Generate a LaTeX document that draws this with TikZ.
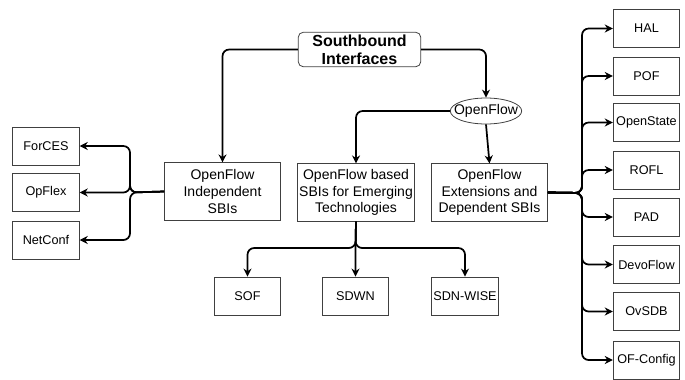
\documentclass[tikz,border=0pt]{standalone}
\usepackage{fontspec}
\setmainfont{Liberation Sans}
\usetikzlibrary{arrows.meta,shapes.geometric}
\begin{document}
\begin{tikzpicture}[x=0.75pt,y=-0.75pt,
        box/.style={draw=black!75,line width=0.6pt,minimum width=87pt,minimum height=43pt,
            align=center,inner sep=1pt,font=\fontsize{10.5}{12.5}\selectfont},
        leaf/.style={draw=black!75,line width=0.6pt,minimum width=50pt,minimum height=28.5pt,
            inner sep=0pt,font=\fontsize{9.5}{11}\selectfont},
        link/.style={line width=1.3pt,rounded corners=5pt,-{Stealth[length=6pt,width=6pt]}}]
    \useasboundingbox (0,0) rectangle (685,379);
    \node[draw=black!75,line width=0.6pt,rounded corners=4pt,minimum width=92pt,minimum height=26pt,
        align=center,inner sep=1pt,font=\fontsize{12}{13.5}\selectfont\bfseries] (sbi) at (359.5,49.5)
        {Southbound\\Interfaces};
    \node[ellipse,draw=black!75,line width=0.6pt,minimum height=19.5pt,inner xsep=-5pt,inner ysep=0pt,
        font=\fontsize{10.5}{12.5}\selectfont] (of) at (486,111) {OpenFlow};
    \node[box] (indep) at (222.5,191.5) {OpenFlow\\Independent\\SBIs};
    \node[box] (based) at (356,192.5) {OpenFlow based\\SBIs for Emerging\\Technologies};
    \node[box] (ext) at (489.5,192.5) {OpenFlow\\Extensions and\\Dependent SBIs};
    % left leaves
    \foreach \name/\y in {ForCES/146, OpFlex/192.5, NetConf/240}
        \node[leaf] (L-\name) at (46,\y) {\name};
    % bottom leaves
    \foreach \name/\x in {SOF/247.5, SDWN/355.5, SDN-WISE/465}
        \node[leaf] (B-\name) at (\x,296) {\name};
    % right leaves
    \foreach \name/\y in {HAL/28.5, POF/76, OpenState/122.5, ROFL/170, PAD/217, DevoFlow/264.5, OvSDB/311.5, OF-Config/360}
        \node[leaf] (R-\name) at (646.5,\y) {\name};
    \coordinate (lbus) at (130,192.5);
    \coordinate (bbus) at (355.5,248);
    \coordinate (rbus) at (582,193);
    \draw[link] (sbi.west) -| (indep.north);
    \draw[link] (sbi.east) -| (of.north);
    \draw[link] (of.west) -| (based.north);
    \draw[link] (of.south) -- (ext.north);
    \foreach \name in {ForCES, OpFlex, NetConf}
        \draw[link] (indep.west) -- (lbus) |- (L-\name.east);
    \foreach \name in {SOF, SDWN, SDN-WISE}
        \draw[link] (based.south) -- (bbus) -| (B-\name.north);
    \foreach \name in {HAL, POF, OpenState, ROFL, PAD, DevoFlow, OvSDB, OF-Config}
        \draw[link] (ext.east) -- (rbus) |- (R-\name.west);
\end{tikzpicture}
\end{document}
